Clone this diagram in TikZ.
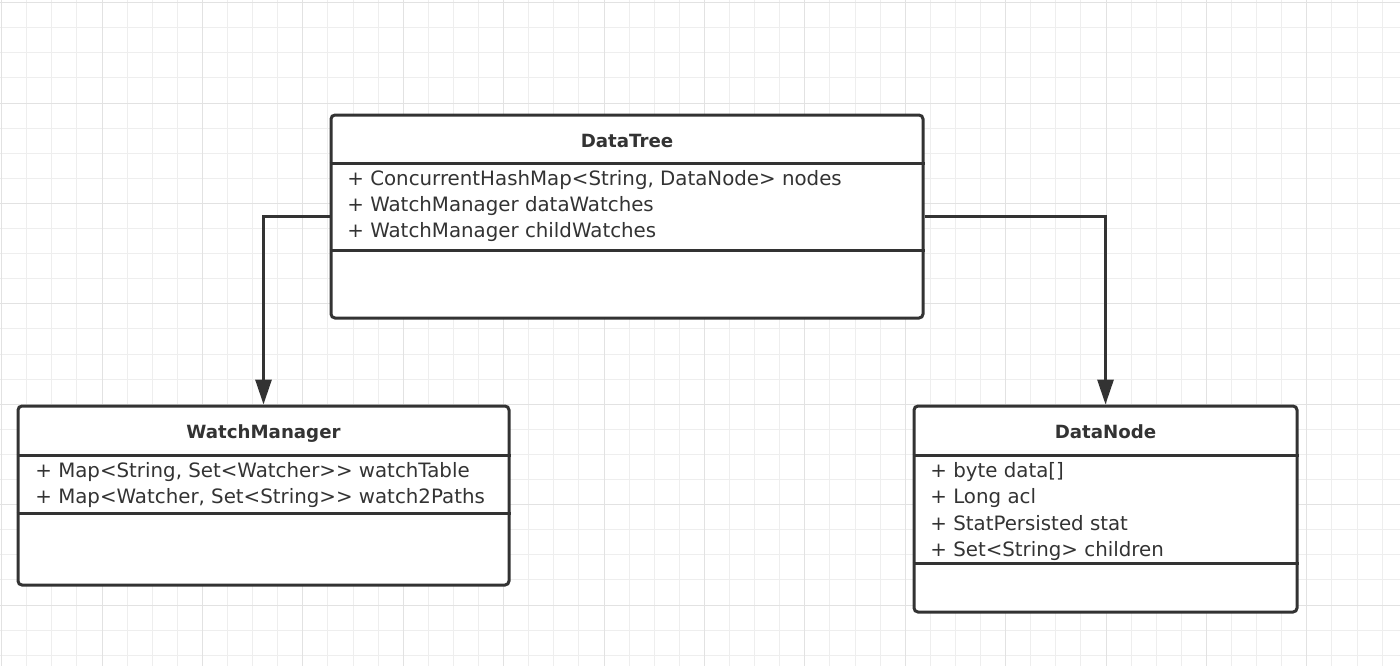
\documentclass[tikz,border=0pt]{standalone}
\usepackage{fontspec}
\setmainfont{DejaVu Sans}
\usetikzlibrary{arrows.meta}

\definecolor{umlline}{HTML}{333333}
\definecolor{gridminor}{HTML}{EEEEEE}
\definecolor{gridmajor}{HTML}{E2E2E2}

\tikzset{
  classbox/.style={draw=umlline, line width=1.5pt, rounded corners=2pt, fill=white, inner sep=0pt},
  divider/.style={draw=umlline, line width=1.5pt},
  classname/.style={anchor=base, inner sep=0pt, text=umlline, font=\bfseries\fontsize{9.1}{11}\selectfont},
  attr/.style={anchor=base west, inner sep=0pt, text=umlline, font=\fontsize{9.9}{12}\selectfont},
  link/.style={draw=umlline, line width=1.5pt, -{Triangle[length=12.5pt,width=8pt]}},
}

\begin{document}
\begin{tikzpicture}[x=0.5pt,y=-0.5pt]
\useasboundingbox (0,0) rectangle (1400,666);

% Cuadricula de fondo
	\foreach \i in {0,...,55}
		\draw[gridminor, line width=0.5pt] (1.6+25.1*\i,0) -- (1.6+25.1*\i,666);
	\foreach \i in {0,...,26}
		\draw[gridminor, line width=0.5pt] (0,2.6+25.1*\i) -- (1400,2.6+25.1*\i);

	\foreach \i in {0,4,...,52}
		\draw[gridmajor, line width=0.5pt] (1.6+25.1*\i,0) -- (1.6+25.1*\i,666);
	\foreach \i in {0,4,...,24}
		\draw[gridmajor, line width=0.5pt] (0,2.6+25.1*\i) -- (1400,2.6+25.1*\i);

% Clases
\node[classbox, minimum width=296pt, minimum height=101.5pt] (tree) at (627,216.5) {};
\node[classbox, minimum width=245.5pt, minimum height=89.5pt] (watch) at (263.5,495.5) {};
\node[classbox, minimum width=191.5pt, minimum height=103pt] (dnode) at (1105.5,509) {};

\draw[divider] (tree.west |- 0,163) -- (tree.east |- 0,163);
\draw[divider] (tree.west |- 0,250) -- (tree.east |- 0,250);
\draw[divider] (watch.west |- 0,455) -- (watch.east |- 0,455);
\draw[divider] (watch.west |- 0,513) -- (watch.east |- 0,513);
\draw[divider] (dnode.west |- 0,455) -- (dnode.east |- 0,455);
\draw[divider] (dnode.west |- 0,563) -- (dnode.east |- 0,563);

\node[classname] (tree-name) at (627,147) {DataTree};
\node[classname] (watch-name) at (263.5,438) {WatchManager};
\node[classname] (dnode-name) at (1105.5,438) {DataNode};

% Atributos
	\foreach \txt [count=\i from 0] in {{+ ConcurrentHashMap<String, DataNode> nodes},
		{+ WatchManager dataWatches}, {+ WatchManager childWatches}}
		\node[attr] (tree-attr\i) at (347,185+26.2*\i) {\txt};

	\foreach \txt [count=\i from 0] in {{+ Map<String, Set<Watcher>{}> watchTable},
		{+ Map<Watcher, Set<String>{}> watch2Paths}}
		\node[attr] (watch-attr\i) at (35,477+26.8*\i) {\txt};

	\foreach \txt [count=\i from 0] in {{+ byte data[]}, {+ Long acl},
		{+ StatPersisted stat}, {+ Set<String> children}}
		\node[attr] (dnode-attr\i) at (930,477+26.6*\i) {\txt};

% Relaciones
\draw[link] (tree.west) -| (watch.north);
\draw[link] (tree.east) -| (dnode.north);
\end{tikzpicture}
\end{document}
